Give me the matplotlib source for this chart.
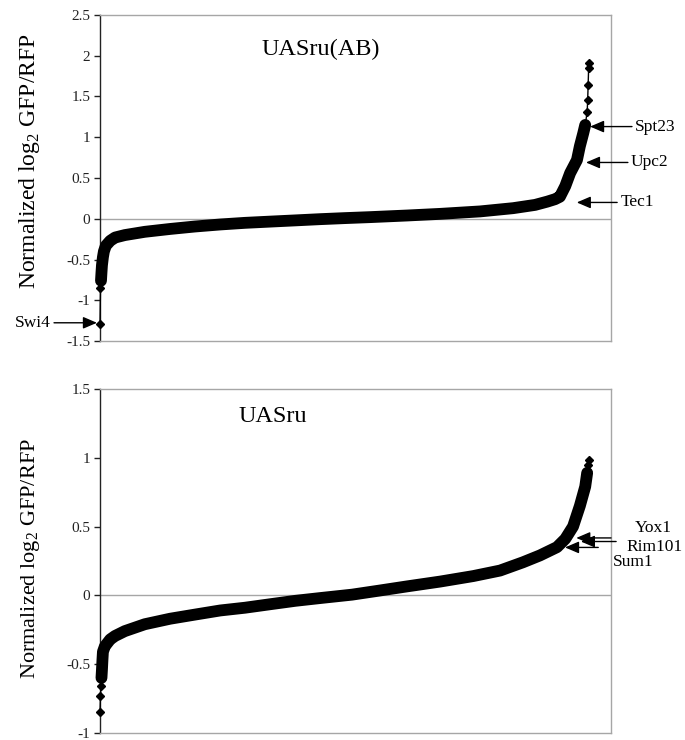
import matplotlib
matplotlib.use('Agg')
import matplotlib.pyplot as plt
import numpy as np
from matplotlib.ticker import MultipleLocator, FormatStrFormatter

plt.rcParams['font.family'] = 'Liberation Serif'
plt.rcParams['axes.unicode_minus'] = False
plt.rcParams['mathtext.fontset'] = 'custom'
plt.rcParams['mathtext.rm'] = 'Liberation Serif'

# sorted gene ranks and normalized log2 GFP/RFP values
top_rank = [0, 1, 2, 3, 4, 6, 8, 12, 21, 31, 51, 92, 144, 195, 247, 298, 349, 401, 452, 503,
            555, 631, 699, 781, 849, 894, 919, 935, 945, 956, 966, 980, 986, 993, 997,
            1001, 1002, 1003, 1004, 1005]
top_val = [-1.29, -0.85, -0.76, -0.66, -0.57, -0.47, -0.40, -0.33, -0.27, -0.23,
           -0.20, -0.16, -0.125, -0.095, -0.07, -0.05, -0.035, -0.02, -0.005, 0.008,
           0.02, 0.04, 0.06, 0.09, 0.13, 0.17, 0.21, 0.24, 0.27, 0.40,
           0.56, 0.72, 0.89, 1.05, 1.15, 1.31, 1.45, 1.64, 1.85, 1.91]

bot_rank = [0, 1, 2, 3, 4, 5, 6, 10, 21, 31, 51, 92, 144, 195, 247, 298, 349, 401, 452, 518,
            575, 631, 699, 767, 822, 869, 904, 939, 956, 972, 986, 997, 1001, 1003, 1004]
bot_val = [-0.85, -0.73, -0.66, -0.60, -0.54, -0.47, -0.41, -0.37, -0.32, -0.295,
           -0.26, -0.21, -0.17, -0.14, -0.11, -0.09, -0.065, -0.04, -0.02, 0.005,
           0.035, 0.065, 0.10, 0.14, 0.18, 0.24, 0.29, 0.35, 0.41, 0.50,
           0.65, 0.79, 0.89, 0.95, 0.985]

# labelled genes: (name, value the arrow points to)
top_genes = ['Spt23', 'Upc2', 'Tec1', 'Swi4']
top_gene_val = [1.13, 0.69, 0.20, -1.275]
bot_genes = ['Yox1', 'Rim101', 'Sum1']
bot_gene_val = [0.417, 0.391, 0.348]
bot_label_val = [0.486, 0.348, 0.239]

GRAY = '#a6a6a6'
N_AXIS = 1050


def style_axes(ax, ylo, yhi):
    ax.set_xlim(0, N_AXIS)
    ax.set_ylim(ylo, yhi)
    ax.yaxis.set_major_locator(MultipleLocator(0.5))
    ax.yaxis.set_major_formatter(FormatStrFormatter('%g'))
    ax.set_xticks([])
    for s in ['top', 'right', 'bottom']:
        ax.spines[s].set_color(GRAY)
        ax.spines[s].set_linewidth(1.0)
    ax.spines['left'].set_color('#222222')
    ax.spines['left'].set_linewidth(1.0)
    ax.tick_params(axis='y', direction='out', length=4, width=1, color='#222222',
                   labelsize=11, pad=3, labelcolor='#222222')
    ax.axhline(0, color=GRAY, lw=1.0, zorder=1)


def draw_curve(ax, rank, val, body):
    rank = np.array(rank)
    val = np.array(val)
    ax.plot(rank[body], val[body], color='black', lw=8.5, solid_capstyle='round',
            solid_joinstyle='round', zorder=3, clip_on=False)
    ax.plot(rank, val, color='black', lw=1, marker='D', ms=4.4, zorder=4, clip_on=False)


def arrow(ax, head, tail, y, ytail=None):
    if ytail is None:
        ytail = y
    ax.annotate('', xy=(head, y), xycoords=('axes fraction', 'data'),
                xytext=(tail, ytail), textcoords=('axes fraction', 'data'),
                arrowprops=dict(arrowstyle='-|>,head_length=0.7,head_width=0.3',
                                color='black', lw=1, shrinkA=0, shrinkB=0,
                                mutation_scale=12),
                annotation_clip=False)


fig = plt.figure(figsize=(6.85, 7.4), dpi=100)
ax1 = fig.add_axes([0.146, 0.539, 0.746, 0.441])
ax2 = fig.add_axes([0.146, 0.0095, 0.746, 0.465])

# top panel
style_axes(ax1, -1.5, 2.5)
draw_curve(ax1, top_rank, top_val, slice(2, 35))
ax1.text(0.432, 0.893, 'UASru(AB)', transform=ax1.transAxes, fontsize=17.5,
         ha='center', va='center')
ax1.set_ylabel(r'Normalized log$_2$ GFP/RFP', fontsize=17)
ax1.yaxis.set_label_coords(-0.113, 0.552)

heads = [0.959, 0.951, 0.933]
tails = [1.041, 1.033, 1.012]
for name, v, h, t in zip(top_genes[:3], top_gene_val[:3], heads, tails):
    arrow(ax1, h, t, v)
    ax1.text(t + 0.006, v, name, transform=ax1.get_yaxis_transform(), fontsize=12.5,
             ha='left', va='center')
arrow(ax1, -0.006, -0.090, top_gene_val[3])
ax1.text(-0.096, top_gene_val[3], top_genes[3], transform=ax1.get_yaxis_transform(),
         fontsize=12.5, ha='right', va='center')

# bottom panel
style_axes(ax2, -1, 1.5)
draw_curve(ax2, bot_rank, bot_val, slice(3, 33))
ax2.text(0.339, 0.919, 'UASru', transform=ax2.transAxes, fontsize=17.5,
         ha='center', va='center')
ax2.set_ylabel(r'Normalized log$_2$ GFP/RFP', fontsize=16)
ax2.yaxis.set_label_coords(-0.113, 0.506)

heads = [0.932, 0.941, 0.910]
tails = [1.0, 1.01, 0.975]
label_x = [1.047, 1.031, 1.004]
for name, v, h, t, lx, lv in zip(bot_genes, bot_gene_val, heads, tails, label_x, bot_label_val):
    arrow(ax2, h, t, v)
    ax2.text(lx, lv, name, transform=ax2.get_yaxis_transform(), fontsize=12.5,
             ha='left', va='center')

fig.savefig('out.png', dpi=100)
